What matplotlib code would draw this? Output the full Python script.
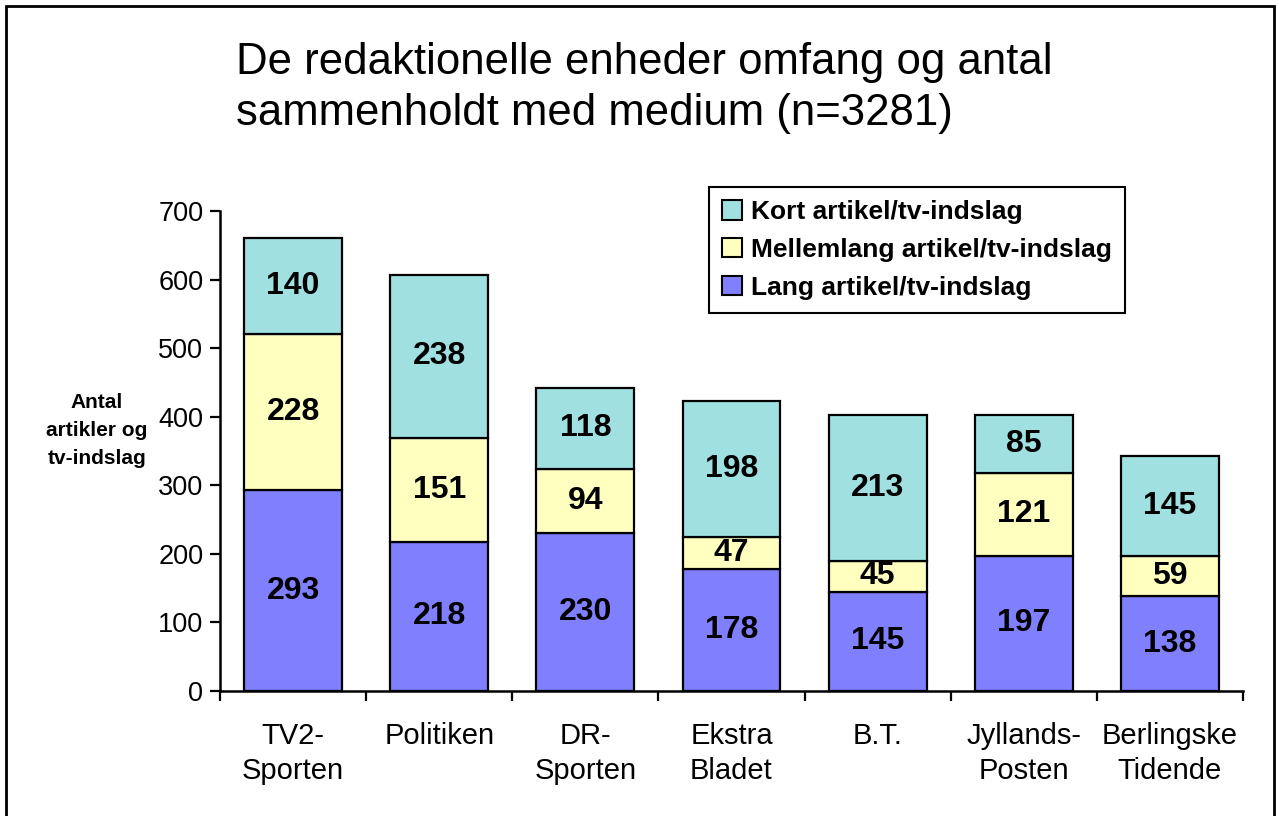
import matplotlib.pyplot as plt
from matplotlib.patches import Rectangle, Patch

plt.rcParams['font.family'] = ['Liberation Sans', 'DejaVu Sans']

# data
medier = ['TV2-\nSporten', 'Politiken', 'DR-\nSporten', 'Ekstra\nBladet', 'B.T.',
          'Jyllands-\nPosten', 'Berlingske\nTidende']
lang = [293, 218, 230, 178, 145, 197, 138]
mellemlang = [228, 151, 94, 47, 45, 121, 59]
kort = [140, 238, 118, 198, 213, 85, 145]

serie_navne = ['Lang artikel/tv-indslag', 'Mellemlang artikel/tv-indslag', 'Kort artikel/tv-indslag']
farver = ['#8080FF', '#FFFFC0', '#A0E0E0']

W, H = 1278, 816
fig = plt.figure(figsize=(W / 100, H / 100), dpi=100)
ax = fig.add_axes([220 / W, 1 - 691 / H, (1243 - 220) / W, (691 - 211) / H])

x = list(range(len(medier)))
bund = [0] * len(medier)
for vals, farve in zip([lang, mellemlang, kort], farver):
    ax.bar(x, vals, bottom=bund, width=0.67, color=farve, edgecolor='black', linewidth=1.6)
    # tal midt i hvert segment
    for i, v in enumerate(vals):
        ax.text(i, bund[i] + v / 2, str(v), ha='center', va='center',
                fontsize=23, fontweight='bold')
    bund = [b + v for b, v in zip(bund, vals)]

ax.set_xlim(-0.5, len(medier) - 0.5)
ax.set_ylim(0, 700)
ax.set_yticks(range(0, 701, 100))
ax.tick_params(axis='y', labelsize=19.5, length=7, width=1.6, direction='out', pad=5)

# kategori-navne i midten, tick-streger mellem kategorierne
ax.set_xticks([i - 0.5 for i in range(len(medier) + 1)])
ax.set_xticklabels([])
ax.set_xticks(x, minor=True)
ax.set_xticklabels(medier, minor=True, fontsize=21, linespacing=1.32)
ax.tick_params(axis='x', which='major', length=7, width=1.6, direction='out')
ax.tick_params(axis='x', which='minor', length=0, pad=22)

for s in ['top', 'right']:
    ax.spines[s].set_visible(False)
for s in ['left', 'bottom']:
    ax.spines[s].set_linewidth(1.8)

fig.text(236 / W, 1 - 42 / H,
         'De redaktionelle enheder omfang og antal\nsammenholdt med medium (n=3281)',
         fontsize=31.5, ha='left', va='top', linespacing=1.3)

fig.text(97 / W, 1 - 431 / H, 'Antal\nartikler og\ntv-indslag', fontsize=15,
         fontweight='bold', ha='center', va='center', multialignment='center',
         linespacing=1.6)

handles = [Patch(facecolor=f, edgecolor='black', linewidth=1.5) for f in farver]
leg = fig.legend(handles[::-1], serie_navne[::-1], loc='upper left',
                 bbox_to_anchor=(709 / W, 1 - 187 / H),
                 prop={'weight': 'bold', 'size': 19}, frameon=True, fancybox=False,
                 edgecolor='black', handlelength=0.75, handleheight=0.75,
                 handletextpad=0.35, labelspacing=0.52, borderpad=0.5,
                 borderaxespad=0)
leg.get_frame().set_linewidth(1.5)
leg.get_frame().set_alpha(1)

# ramme om hele diagrammet
fig.patches.append(Rectangle((6 / W, -0.05), (1274 - 6) / W, 1.05 - 6 / H,
                             transform=fig.transFigure, fill=False,
                             edgecolor='black', linewidth=2))

fig.savefig('out.png', dpi=100)
